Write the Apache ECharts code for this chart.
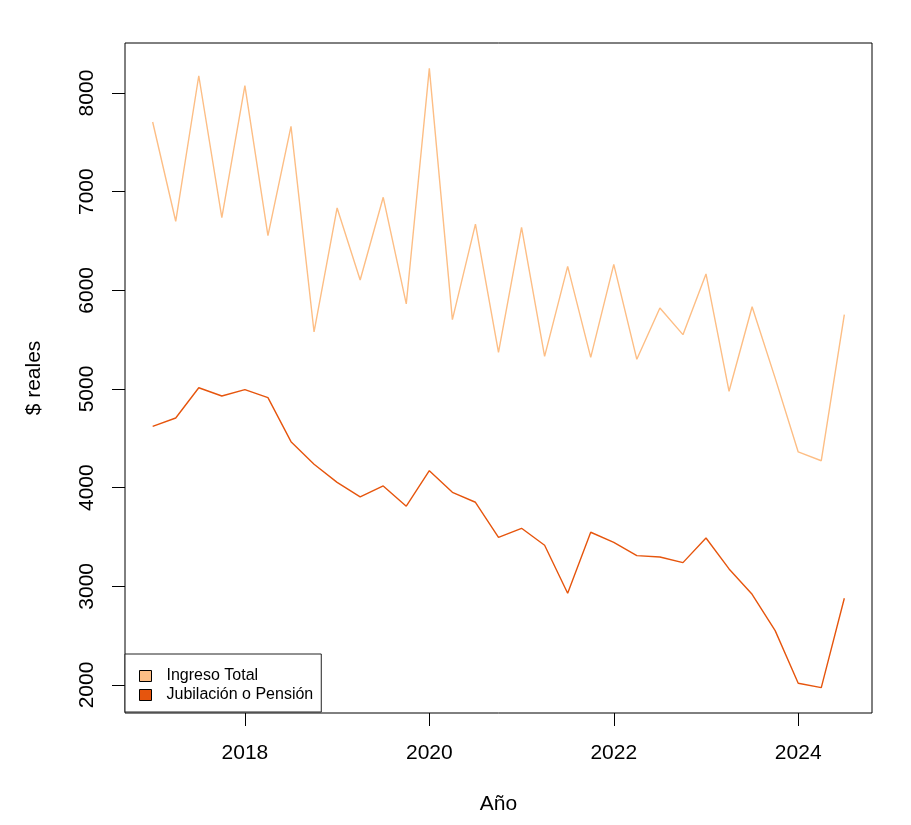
<!DOCTYPE html>
<html>
<head>
<meta charset="utf-8">
<script src="https://cdn.jsdelivr.net/npm/echarts@6/dist/echarts.min.js"></script>
<style>
  html, body { margin: 0; padding: 0; background: #fff; }
  #chart { width: 911px; height: 825px; }
</style>
</head>
<body>
<div id="chart"></div>
<script>
// quarterly periods (year fraction)
const periodos = [
  2017.00, 2017.25, 2017.50, 2017.75,
  2018.00, 2018.25, 2018.50, 2018.75,
  2019.00, 2019.25, 2019.50, 2019.75,
  2020.00, 2020.25, 2020.50, 2020.75,
  2021.00, 2021.25, 2021.50, 2021.75,
  2022.00, 2022.25, 2022.50, 2022.75,
  2023.00, 2023.25, 2023.50, 2023.75,
  2024.00, 2024.25, 2024.50
];

const ingresoTotal = [
  7706, 6700, 8175, 6736,
  8074, 6554, 7662, 5578,
  6835, 6105, 6943, 5862,
  8250, 5703, 6672, 5372,
  6639, 5331, 6243, 5321,
  6263, 5301, 5821, 5551,
  6166, 4977, 5834, 5110,
  4362, 4273, 5753
];

const jubilacion = [
  4622, 4706, 5013, 4929,
  4993, 4912, 4466, 4237,
  4054, 3906, 4017, 3812,
  4172, 3953, 3852, 3497,
  3588, 3416, 2930, 3548,
  3446, 3311, 3297, 3240,
  3490, 3176, 2919, 2551,
  2018, 1973, 2879
];

const xTicks = [2018, 2020, 2022, 2024];
const yTicks = [2000, 3000, 4000, 5000, 6000, 7000, 8000];

const colIngreso = '#fdbe85';
const colJubilacion = '#e6550d';
const font = 'Liberation Sans, Arial, Helvetica, sans-serif';

const chart = echarts.init(document.getElementById('chart'), null, { renderer: 'canvas' });

chart.setOption({
  animation: false,
  backgroundColor: '#fff',
  textStyle: { fontFamily: font, color: '#000' },
  grid: {
    left: 125, top: 43, right: 39, bottom: 112,
    show: true, borderColor: '#000', borderWidth: 1, backgroundColor: 'transparent'
  },
  legend: {
    orient: 'vertical',
    left: 125, top: 654,
    padding: [14, 8, 9, 14],
    itemGap: 3,
    itemWidth: 12, itemHeight: 11,
    icon: 'rect',
    backgroundColor: '#fff',
    borderColor: '#222', borderWidth: 1, borderRadius: 0,
    itemStyle: { borderColor: '#000', borderWidth: 1 },
    textStyle: { fontFamily: font, fontSize: 16, color: '#000', lineHeight: 16, padding: [0, 0, 0, 10] },
    data: ['Ingreso Total', 'Jubilación o Pensión']
  },
  xAxis: {
    type: 'value',
    min: 2016.7, max: 2024.8,
    name: 'Año',
    nameLocation: 'middle',
    nameGap: 81,
    nameTextStyle: { fontFamily: font, fontSize: 21, color: '#000' },
    axisLine: { show: false },
    splitLine: { show: false },
    axisTick: { show: true, length: 13, lineStyle: { color: '#000', width: 1 }, customValues: xTicks },
    axisLabel: {
      fontFamily: font, fontSize: 21, color: '#000', margin: 30, customValues: xTicks,
      formatter: (v) => String(v)
    }
  },
  yAxis: {
    type: 'value',
    min: 1716, max: 8507,
    name: '$ reales',
    nameLocation: 'middle',
    nameGap: 80,
    nameRotate: 90,
    nameTextStyle: { fontFamily: font, fontSize: 21, color: '#000' },
    axisLine: { show: false },
    splitLine: { show: false },
    axisTick: { show: true, length: 13, lineStyle: { color: '#000', width: 1 }, customValues: yTicks },
    axisLabel: {
      fontFamily: font, fontSize: 21, color: '#000', margin: 27, rotate: 90, customValues: yTicks,
      formatter: (v) => String(v)
    }
  },
  series: [
    {
      name: 'Ingreso Total',
      type: 'line',
      showSymbol: false,
      symbol: 'none',
      color: colIngreso,
      itemStyle: { color: colIngreso },
      lineStyle: { color: colIngreso, width: 1.4 },
      data: periodos.map((p, i) => [p, ingresoTotal[i]])
    },
    {
      name: 'Jubilación o Pensión',
      type: 'line',
      showSymbol: false,
      symbol: 'none',
      color: colJubilacion,
      itemStyle: { color: colJubilacion },
      lineStyle: { color: colJubilacion, width: 1.4 },
      data: periodos.map((p, i) => [p, jubilacion[i]])
    }
  ]
});
</script>
</body>
</html>
